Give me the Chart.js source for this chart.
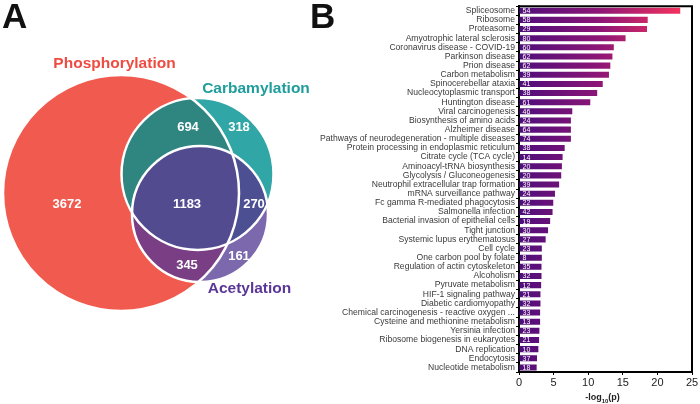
<!DOCTYPE html>
<html>
<head>
<meta charset="utf-8">
<script src="https://cdn.jsdelivr.net/npm/chart.js@4.4.0/dist/chart.umd.min.js"></script>
<style>
  body { margin: 0; background: #fff; }
  #wrap { position: relative; width: 700px; height: 404px; }
  canvas { position: absolute; top: 0; }
  #venn { left: 0; }
  #bars { left: 300px; }
</style>
</head>
<body>
<div id="wrap">
  <canvas id="venn" width="320" height="404"></canvas>
  <canvas id="bars" width="400" height="404"></canvas>
</div>
<script>
// --- panel A data ---
const vennSets = ["Phosphorylation", "Carbamylation", "Acetylation"];
const vennRegions = ["P", "C", "A", "PC", "PA", "CA", "PCA"];
const vennCounts = [3672, 318, 161, 694, 345, 270, 1183];

// --- panel B data ---
const pathways = [
  "Spliceosome", "Ribosome", "Proteasome", "Amyotrophic lateral sclerosis",
  "Coronavirus disease - COVID-19", "Parkinson disease", "Prion disease",
  "Carbon metabolism", "Spinocerebellar ataxia", "Nucleocytoplasmic transport",
  "Huntington disease", "Viral carcinogenesis", "Biosynthesis of amino acids",
  "Alzheimer disease", "Pathways of neurodegeneration - multiple diseases",
  "Protein processing in endoplasmic reticulum", "Citrate cycle (TCA cycle)",
  "Aminoacyl-tRNA biosynthesis", "Glycolysis / Gluconeogenesis",
  "Neutrophil extracellular trap formation", "mRNA surveillance pathway",
  "Fc gamma R-mediated phagocytosis", "Salmonella infection",
  "Bacterial invasion of epithelial cells", "Tight junction",
  "Systemic lupus erythematosus", "Cell cycle", "One carbon pool by folate",
  "Regulation of actin cytoskeleton", "Alcoholism", "Pyruvate metabolism",
  "HIF-1 signaling pathway", "Diabetic cardiomyopathy",
  "Chemical carcinogenesis - reactive oxygen ...",
  "Cysteine and methionine metabolism", "Yersinia infection",
  "Ribosome biogenesis in eukaryotes", "DNA replication", "Endocytosis",
  "Nucleotide metabolism"
];
const logP = [
  23.3, 18.6, 18.5, 15.4, 13.7, 13.5, 13.2, 13.0, 12.1, 11.3,
  10.3, 7.7, 7.5, 7.5, 7.5, 6.6, 6.3, 6.2, 6.1, 5.8,
  5.2, 4.95, 4.85, 4.5, 4.2, 3.85, 3.3, 3.3, 3.25, 3.25,
  3.2, 3.1, 3.1, 3.05, 3.05, 2.95, 2.9, 2.8, 2.6, 2.55
];
const geneCounts = [
  54, 58, 29, 80, 60, 62, 62, 39, 41, 38,
  61, 46, 24, 64, 74, 38, 14, 20, 20, 39,
  24, 22, 42, 19, 30, 27, 23, 8, 35, 32,
  12, 21, 32, 33, 13, 23, 21, 10, 37, 18
];
const xTicks = [0, 5, 10, 15, 20, 25];

const FONT = "'Liberation Sans', Arial, sans-serif";

// circle layout for the venn (in panel units = px of panel A)
const circles = {
  P: { x: 121, y: 193, r: 118 },
  C: { x: 197.5, y: 174, r: 76 },
  A: { x: 200, y: 214, r: 68 }
};
const regionColors = {
  P: "#f15a4f", C: "#31a6a6", A: "#7c68ad",
  PC: "#2f8580", PA: "#7a3e85", CA: "#4d4f93", PCA: "#524b8f"
};
const regionLabelPos = {
  P: [67, 204], C: [239, 127], A: [239, 256], PC: [188, 127],
  PA: [187, 265], CA: [254, 204], PCA: [187, 204]
};
const setLabelPos = [[114.5, 64, "#ee4c43"], [256, 89, "#1f9c9c"], [249.5, 289, "#5a3796"]];

const vennPlugin = {
  id: "venn",
  afterDraw(chart) {
    const ctx = chart.ctx;
    const xs = chart.scales.x, ys = chart.scales.y;
    const px = v => xs.getPixelForValue(v);
    const py = v => ys.getPixelForValue(v);
    const pr = r => px(r) - px(0);
    const path = k => {
      const c = circles[k];
      ctx.beginPath();
      ctx.arc(px(c.x), py(c.y), pr(c.r), 0, Math.PI * 2);
    };
    const fillWithin = (clipKeys, key, color) => {
      ctx.save();
      clipKeys.forEach(k => { path(k); ctx.clip(); });
      path(key);
      ctx.fillStyle = color;
      ctx.fill();
      ctx.restore();
    };
    // single sets first, then the overlaps on top
    ["P", "C", "A"].forEach(k => fillWithin([], k, regionColors[k]));
    fillWithin(["P"], "C", regionColors.PC);
    fillWithin(["P"], "A", regionColors.PA);
    fillWithin(["C"], "A", regionColors.CA);
    fillWithin(["P", "C"], "A", regionColors.PCA);
    // white outlines
    ctx.save();
    ctx.strokeStyle = "#fff";
    ctx.lineWidth = 2.5;
    ["P", "C", "A"].forEach(k => { path(k); ctx.stroke(); });
    ctx.restore();

    ctx.save();
    ctx.textAlign = "center";
    ctx.textBaseline = "middle";
    ctx.fillStyle = "#fff";
    ctx.font = "bold 13px " + FONT;
    vennRegions.forEach((k, i) => {
      const p = regionLabelPos[k];
      ctx.fillText(vennCounts[i], px(p[0]), py(p[1]));
    });
    ctx.font = "bold 15.5px " + FONT;
    vennSets.forEach((s, i) => {
      const p = setLabelPos[i];
      ctx.fillStyle = p[2];
      ctx.fillText(s, px(p[0]), py(p[1]));
    });
    // panel letter
    ctx.fillStyle = "#111";
    ctx.font = "bold 35px " + FONT;
    ctx.textAlign = "left";
    ctx.textBaseline = "alphabetic";
    ctx.fillText("A", px(2), py(28));
    ctx.restore();
  }
};

new Chart(document.getElementById("venn"), {
  type: "scatter",
  data: { datasets: [] },
  options: {
    responsive: false,
    animation: false,
    layout: { padding: 0 },
    plugins: { legend: { display: false }, tooltip: { enabled: false } },
    scales: {
      x: { type: "linear", min: 0, max: 320, display: false },
      y: { type: "linear", min: 0, max: 404, reverse: true, display: false }
    }
  },
  plugins: [vennPlugin]
});

// --- panel B ---
function barGradient(c) {
  const chart = c.chart;
  const { chartArea, scales } = chart;
  if (!chartArea) return "#4b0f7b";
  const x0 = scales.x.getPixelForValue(0);
  const x1 = scales.x.getPixelForValue(Math.max(...logP));
  const g = chart.ctx.createLinearGradient(x0, 0, x1, 0);
  g.addColorStop(0, "#4e0e7a");
  g.addColorStop(0.5, "#8d1676");
  g.addColorStop(1, "#f2325e");
  return g;
}

const barExtras = {
  id: "barExtras",
  afterDatasetsDraw(chart) {
    const ctx = chart.ctx;
    const meta = chart.getDatasetMeta(0);
    ctx.save();
    ctx.fillStyle = "#fff";
    ctx.font = "7px " + FONT;
    ctx.textBaseline = "middle";
    ctx.textAlign = "left";
    meta.data.forEach((bar, i) => {
      ctx.fillText(geneCounts[i], bar.base + 3, bar.y + 0.5);
    });
    ctx.restore();
  },
  afterDraw(chart) {
    const ctx = chart.ctx;
    const a = chart.chartArea;
    ctx.save();
    ctx.strokeStyle = "#000";
    ctx.lineWidth = 2;
    ctx.beginPath();
    ctx.moveTo(a.left, a.top);
    ctx.lineTo(a.right, a.top);
    ctx.lineTo(a.right, a.bottom);
    ctx.stroke();
    // axis title with subscript
    const cx = (a.left + a.right) / 2 - 3;
    const y = 398;
    ctx.fillStyle = "#222";
    ctx.textBaseline = "middle";
    ctx.textAlign = "left";
    const big = "bold 9px " + FONT, small = "bold 6px " + FONT;
    ctx.font = big;
    const w1 = ctx.measureText("-log").width;
    const w3 = ctx.measureText("(p)").width;
    ctx.font = small;
    const w2 = ctx.measureText("10").width;
    let x = cx - (w1 + w2 + w3) / 2;
    ctx.font = big; ctx.fillText("-log", x, y); x += w1;
    ctx.font = small; ctx.fillText("10", x, y + 3); x += w2;
    ctx.font = big; ctx.fillText("(p)", x, y);
    // panel letter
    ctx.fillStyle = "#111";
    ctx.font = "bold 35px " + FONT;
    ctx.textBaseline = "alphabetic";
    ctx.fillText("B", 10, 28);
    ctx.restore();
  }
};

new Chart(document.getElementById("bars"), {
  type: "bar",
  data: {
    labels: pathways,
    datasets: [{
      data: logP,
      backgroundColor: barGradient,
      barPercentage: 0.66,
      categoryPercentage: 1
    }]
  },
  options: {
    indexAxis: "y",
    responsive: false,
    animation: false,
    layout: { padding: { top: 2, right: 8, left: 0, bottom: 0 } },
    plugins: { legend: { display: false }, tooltip: { enabled: false } },
    scales: {
      x: {
        min: 0, max: 25,
        afterBuildTicks: s => { s.ticks = xTicks.map(v => ({ value: v })); },
        afterFit: s => { s.height = 32; },
        border: { display: true, color: "#000", width: 2 },
        grid: { drawOnChartArea: false, drawTicks: true, tickLength: 3, color: "#000" },
        ticks: { color: "#222", padding: 1.5, font: { family: FONT, size: 11 } }
      },
      y: {
        afterFit: s => { s.width = 219; },
        border: { display: true, color: "#000", width: 2 },
        grid: { drawOnChartArea: false, drawTicks: true, tickLength: 3, color: "#000" },
        ticks: { autoSkip: false, color: "#3a3a3a", padding: 1, font: { family: FONT, size: 8.6 } }
      }
    }
  },
  plugins: [barExtras]
});
</script>
</body>
</html>
